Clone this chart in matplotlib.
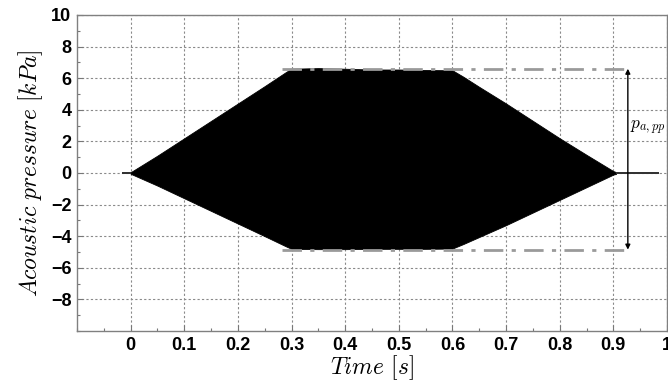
import numpy as np
import matplotlib.pyplot as plt
from matplotlib.ticker import MultipleLocator

plt.rcParams['mathtext.fontset'] = 'cm'

# envelope of the acoustic pressure signal [kPa] read over time [s]
t_env = [0.0, 0.05, 0.10, 0.15, 0.20, 0.25, 0.29, 0.30, 0.35, 0.40, 0.45, 0.50,
         0.55, 0.60, 0.62, 0.65, 0.70, 0.75, 0.80, 0.85, 0.90, 0.905]
p_upper = [0.05, 1.1, 2.2, 3.3, 4.4, 5.5, 6.4, 6.6, 6.64, 6.6, 6.55, 6.55,
           6.52, 6.5, 6.1, 5.45, 4.4, 3.3, 2.2, 1.15, 0.12, 0.06]
p_lower = [-0.05, -0.8, -1.6, -2.4, -3.2, -4.0, -4.65, -4.8, -4.82, -4.82, -4.8, -4.8,
           -4.8, -4.78, -4.5, -4.05, -3.3, -2.5, -1.7, -0.9, -0.1, -0.06]

# background noise before and after the burst
t_pre = [-0.017, 0.0]
t_post = [0.905, 0.985]
noise = 0.07

# peak-to-peak markers
p_max = 6.6
p_min = -4.85
t_ref_start = 0.283
t_arrow = 0.927

fig = plt.figure(figsize=(6.68, 3.86), dpi=100)
ax = fig.add_axes([77 / 668, 55 / 386, 590 / 668, 316 / 386])

ax.fill_between(t_env, p_lower, p_upper, color='black', linewidth=0.6,
                edgecolor='black', zorder=3)
ax.fill_between(t_pre, [-noise, -noise], [noise, noise], color='#333333', linewidth=0, zorder=3)
ax.fill_between(t_post, [-noise, -noise], [noise, noise], color='#333333', linewidth=0, zorder=3)

ref_style = dict(color='#9a9a9a', linewidth=2.0, linestyle=(0, (7, 3, 1.5, 3)), zorder=4)
ax.plot([t_ref_start, t_arrow], [p_max, p_max], **ref_style)
ax.plot([t_ref_start, t_arrow], [p_min, p_min], **ref_style)

ax.annotate('', xy=(t_arrow, p_max), xytext=(t_arrow, p_min),
            arrowprops=dict(arrowstyle='<|-|>', color='black', lw=1.0,
                            mutation_scale=7, shrinkA=0, shrinkB=0), zorder=5)
ax.text(t_arrow + 0.004, 2.85, r'$p_{a,pp}$', fontsize=12.5, va='center', ha='left')

ax.set_xlim(-0.1, 1.0)
ax.set_ylim(-10, 10)
ax.set_xticks(np.round(np.arange(0, 1.01, 0.1), 1))
ax.set_xticklabels(['0'] + [f'{v:.1f}' for v in np.arange(0.1, 0.95, 0.1)] + ['1'])
ax.set_yticks(np.arange(-8, 11, 2))
ax.xaxis.set_minor_locator(MultipleLocator(0.05))
ax.yaxis.set_minor_locator(MultipleLocator(1))

ax.grid(True, which='major', color='#8a8a8a', linestyle=(0, (2, 2)), linewidth=0.8, zorder=0)
ax.set_axisbelow(True)

for lab in ax.get_xticklabels() + ax.get_yticklabels():
    lab.set_fontfamily('Liberation Sans')
    lab.set_fontweight('bold')
    lab.set_fontsize(13)

ax.tick_params(which='both', direction='in', color='#777777', top=False, right=False)
ax.tick_params(which='major', length=4, width=0.8, pad=4)
ax.tick_params(which='minor', length=2.5, width=0.8)
for s in ax.spines.values():
    s.set_color('#808080')
    s.set_linewidth(1.0)

ax.set_xlabel(r'$Time\ [s]$', fontsize=17, labelpad=0)
ax.set_ylabel(r'$Acoustic\ pressure\ [kPa]$', fontsize=17, labelpad=4)

fig.savefig('out.png', dpi=100)
